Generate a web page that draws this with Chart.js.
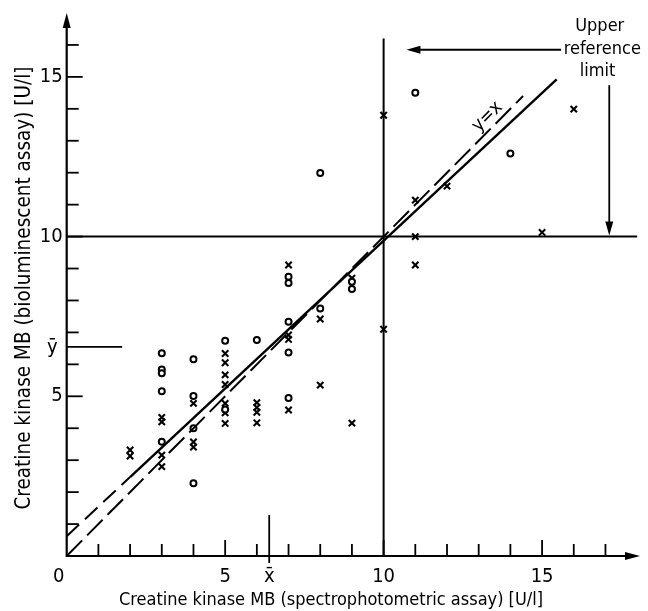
<!DOCTYPE html>
<html>
<head>
<meta charset="utf-8">
<title>Creatine kinase MB: bioluminescent vs spectrophotometric</title>
<script src="https://cdn.jsdelivr.net/npm/chart.js"></script>
<style>
  body { margin: 0; background: #fff; }
  #wrap { width: 648px; height: 611px; }
</style>
</head>
<body>
<div id="wrap"><canvas id="ckChart"></canvas></div>
<script>
// values, U/l
// open circles
const circleX = [3, 3, 3, 3, 3, 4, 4, 4, 4, 5, 5, 6, 7, 7, 7, 7, 7, 8, 8, 9, 9, 11, 14];
const circleY = [6.35, 5.84, 5.72, 5.16, 3.58, 6.16, 5.01, 4.0, 2.28, 6.74, 4.59, 6.76,
                 8.74, 8.55, 7.33, 6.37, 4.95, 7.75, 11.99, 8.59, 8.36, 14.5, 12.6];
// crosses
const crossX = [2, 2, 3, 3, 3, 3, 4, 4, 4, 5, 5, 5, 5, 5, 5, 5, 6, 6, 6, 6,
                7, 7, 7, 7, 8, 8, 9, 9, 10, 10, 11, 11, 11, 12, 15, 16];
const crossY = [3.32, 3.13, 4.34, 4.2, 3.16, 2.8, 4.78, 3.57, 3.41,
                6.34, 6.05, 5.67, 5.37, 4.78, 4.48, 4.15, 4.8, 4.65, 4.5, 4.17,
                9.11, 6.92, 6.78, 4.57, 7.42, 5.35, 8.7, 4.16, 13.8, 7.1,
                11.14, 10.0, 9.11, 11.58, 10.13, 13.99];

// regression line y = a + b*x (solid over the data, dashed towards the axis)
const regA = 0.62, regB = 0.925;
const regSolidX = [2, 15.46];
const regDashX = [0, 2];
const identityX = [0, 14.4];          // y = x, dashed

// upper reference limit lines
const refLimit = 10;
const refHorizX = [0, 18.0];
const refVertY = [0, 16.2];

const xMean = 6.39, yMean = 6.55;
const xTickLabels = [0, 5, 10, 15];
const yTickLabels = [5, 10, 15];

const FONT = '"Liberation Sans Narrow", "DejaVu Sans Condensed", "DejaVu Sans", sans-serif';

const pts = (xs, ys) => xs.map((v, i) => ({x: v, y: ys[i]}));
const reg = xs => xs.map(v => ({x: v, y: regA + regB * v}));

function seg(ctx, x1, y1, x2, y2) {
    ctx.beginPath(); ctx.moveTo(x1, y1); ctx.lineTo(x2, y2); ctx.stroke();
}
function head(ctx, tx, ty, dx, dy, len, half) {
    // filled arrow head, tip at (tx,ty), pointing along (dx,dy)
    const nx = -dy, ny = dx;
    ctx.beginPath();
    ctx.moveTo(tx, ty);
    ctx.lineTo(tx - dx * len + nx * half, ty - dy * len + ny * half);
    ctx.lineTo(tx - dx * len - nx * half, ty - dy * len - ny * half);
    ctx.closePath(); ctx.fill();
}

const decorations = {
    id: 'decorations',
    afterDatasetsDraw(chart) {
        const {ctx, scales: {x, y}} = chart;
        const px = v => x.getPixelForValue(v), py = v => y.getPixelForValue(v);
        const x0 = px(0), y0 = py(0);
        ctx.save();
        ctx.strokeStyle = '#000';
        ctx.fillStyle = '#000';
        ctx.lineCap = 'butt';

        // axes with arrows
        ctx.lineWidth = 2.2;
        seg(ctx, x0, y0, x.right - 8, y0);
        head(ctx, x.right, y0, 1, 0, 15, 4);
        seg(ctx, x0, y0 + 1, x0, y.top + 8);
        head(ctx, x0, y.top, 0, -1, 15, 4);

        // inward ticks
        ctx.lineWidth = 1.8;
        for (let i = 1; i <= 17; i++) {
            const L = i % 5 === 0 ? 16 : 12;
            seg(ctx, px(i), y0, px(i), y0 - L);
        }
        for (let i = 1; i <= 16; i++) {
            const L = i % 5 === 0 ? 16 : 12;
            seg(ctx, x0, py(i), x0 + L, py(i));
        }

        // means
        seg(ctx, px(xMean), py(1.28), px(xMean), y0 + 7);
        seg(ctx, x0, py(yMean), px(1.75), py(yMean));

        // tick labels
        ctx.font = '20px ' + FONT;
        ctx.textBaseline = 'middle';
        ctx.textAlign = 'center';
        xTickLabels.forEach(v => {
            const cx = v === 0 ? x0 - 8 : px(v);
            ctx.fillText(String(v), cx, y0 + 21);
        });
        ctx.fillText('x\u0304', px(xMean), y0 + 21);
        ctx.textAlign = 'right';
        yTickLabels.forEach(v => ctx.fillText(String(v), x0 - 4, py(v)));
        ctx.fillText('y\u0304', x0 - 9, py(yMean) + 1);

        // axis titles
        ctx.font = '18px ' + FONT;
        ctx.textAlign = 'center';
        ctx.fillText('Creatine kinase MB (spectrophotometric assay) [U/l]', 331, 600);
        ctx.save();
        ctx.translate(25, 288);
        ctx.rotate(-Math.PI / 2);
        ctx.font = '20.5px ' + FONT;
        ctx.fillText('Creatine kinase MB (bioluminescent assay) [U/l]', 0, 0);
        ctx.restore();

        // upper reference limit annotation
        ctx.font = '18px ' + FONT;
        ctx.fillText('Upper', px(16.82), 26);
        ctx.fillText('reference', px(16.9), 49);
        ctx.fillText('limit', px(16.75), 71);
        ctx.lineWidth = 1.8;
        const ay = py(15.85);
        seg(ctx, px(15.6), ay, px(10.72) + 10, ay);
        head(ctx, px(10.72), ay, -1, 0, 14, 4);
        const ax = px(17.12);
        seg(ctx, ax, py(14.74), ax, py(refLimit) - 10);
        head(ctx, ax, py(refLimit) - 1, 0, 1, 14, 4);

        // y = x label along the identity line
        const ang = Math.atan2(py(1) - py(0), px(1) - px(0));
        ctx.save();
        ctx.translate(px(13.5) - 7, py(13.5) - 8);
        ctx.rotate(ang);
        ctx.font = '19px ' + FONT;
        ctx.fillText('y=x', 0, 0);
        ctx.restore();

        ctx.restore();
    }
};

new Chart(document.getElementById('ckChart'), {
    type: 'scatter',
    data: {
        datasets: [
            {
                label: 'reference limit (horizontal)',
                data: refHorizX.map(v => ({x: v, y: refLimit})),
                showLine: true, pointRadius: 0, borderColor: '#000', borderWidth: 2
            },
            {
                label: 'reference limit (vertical)',
                data: refVertY.map(v => ({x: refLimit, y: v})),
                showLine: true, pointRadius: 0, borderColor: '#000', borderWidth: 2
            },
            {
                label: 'y = x',
                data: identityX.map(v => ({x: v, y: v})),
                showLine: true, pointRadius: 0, borderColor: '#000', borderWidth: 2,
                borderDash: [22, 7]
            },
            {
                label: 'regression (extrapolated)',
                data: reg(regDashX),
                showLine: true, pointRadius: 0, borderColor: '#000', borderWidth: 2,
                borderDash: [17, 8]
            },
            {
                label: 'regression',
                data: reg(regSolidX),
                showLine: true, pointRadius: 0, borderColor: '#000', borderWidth: 2.4
            },
            {
                label: 'circles',
                data: pts(circleX, circleY),
                pointStyle: 'circle', pointRadius: 3, borderColor: '#000',
                backgroundColor: '#fff', borderWidth: 2
            },
            {
                label: 'crosses',
                data: pts(crossX, crossY),
                pointStyle: 'crossRot', pointRadius: 4.5, borderColor: '#000', borderWidth: 2.1
            }
        ]
    },
    options: {
        responsive: true,
        maintainAspectRatio: false,
        animation: false,
        layout: { padding: { left: 66.7, right: 8, top: 13, bottom: 55 } },
        scales: {
            x: { type: 'linear', min: 0, max: 18.09, display: false },
            y: { type: 'linear', min: 0, max: 17.0, display: false }
        },
        plugins: {
            legend: { display: false },
            tooltip: { enabled: false }
        }
    },
    plugins: [decorations]
});
</script>
</body>
</html>
